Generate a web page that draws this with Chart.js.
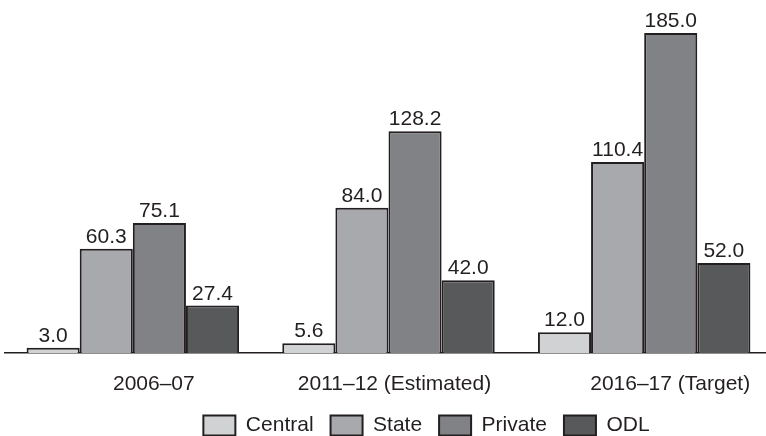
<!DOCTYPE html>
<html>
<head>
<meta charset="utf-8">
<script src="https://cdn.jsdelivr.net/npm/chart.js@4/dist/chart.umd.min.js"></script>
<style>
  html, body { margin: 0; padding: 0; background: #fff; overflow: hidden; }
  #wrap { width: 772px; height: 436px; }
</style>
</head>
<body>
<div id="wrap"><canvas id="chart"></canvas></div>
<script>
// Chart data.
const categories = ['2006–07', '2011–12 (Estimated)', '2016–17 (Target)'];
const central = [3.0, 5.6, 12.0];
const state = [60.3, 84.0, 110.4];
const privateSector = [75.1, 128.2, 185.0];
const odl = [27.4, 42.0, 52.0];

// Category labels sit a little right of their groups in the original.
const labelShift = [21, 6, 26];

const ink = '#231f20';
const font = 'Liberation Sans, Arial, Helvetica, sans-serif';

const datasets = [
  {label: 'Central', data: central, backgroundColor: '#d1d2d4'},
  {label: 'State', data: state, backgroundColor: '#a7a9ac'},
  {label: 'Private', data: privateSector, backgroundColor: '#808285'},
  {label: 'ODL', data: odl, backgroundColor: '#58595b'},
].map(ds => ({...ds, borderColor: ink, borderWidth: 2, borderSkipped: 'start'}));

// Value labels above each bar.
const valueLabels = {
  id: 'valueLabels',
  afterDatasetsDraw: (chart) => {
    const {ctx} = chart;
    ctx.save();
    ctx.font = '21px ' + font;
    ctx.fillStyle = ink;
    ctx.textAlign = 'center';
    ctx.textBaseline = 'alphabetic';
    chart.data.datasets.forEach((ds, i) => {
      chart.getDatasetMeta(i).data.forEach((bar, j) => {
        ctx.fillText(ds.data[j].toFixed(1), bar.x, bar.y - 6);
      });
    });
    ctx.restore();
  }
};

// Category labels under the axis.
const categoryLabels = {
  id: 'categoryLabels',
  afterDraw: (chart) => {
    const {ctx, chartArea} = chart;
    const x = chart.scales.x;
    ctx.save();
    ctx.font = '21px ' + font;
    ctx.fillStyle = ink;
    ctx.textAlign = 'center';
    ctx.textBaseline = 'middle';
    categories.forEach((c, i) => {
      ctx.fillText(c, x.getPixelForValue(i) + labelShift[i], chartArea.bottom + 31);
    });
    ctx.restore();
  }
};

// Nudge the legend to where it sits in the original.
const legendNudge = {
  id: 'legendNudge',
  afterLayout: (chart) => {
    const lg = chart.legend;
    lg.left += 38; lg.right += 38;
    lg.top += 10; lg.bottom += 10;
  }
};

new Chart(document.getElementById('chart'), {
  type: 'bar',
  data: {labels: categories, datasets},
  options: {
    responsive: true,
    maintainAspectRatio: false,
    animation: false,
    layout: {padding: {left: 5, right: 0, top: 0, bottom: 0}},
    datasets: {bar: {categoryPercentage: 0.831, barPercentage: 1}},
    plugins: {
      tooltip: {enabled: false},
      legend: {
        position: 'bottom',
        labels: {
          boxWidth: 32,
          boxHeight: 20,
          padding: 17,
          color: ink,
          font: {size: 21, family: font},
        },
      },
    },
    scales: {
      x: {
        grid: {display: false},
        border: {display: true, color: ink, width: 1.5},
        ticks: {display: false},
        afterFit: (scale) => { scale.height = 35; },
      },
      y: {
        display: false,
        min: 0,
        max: 204,
      },
    },
  },
  plugins: [valueLabels, categoryLabels, legendNudge],
});
</script>
</body>
</html>
